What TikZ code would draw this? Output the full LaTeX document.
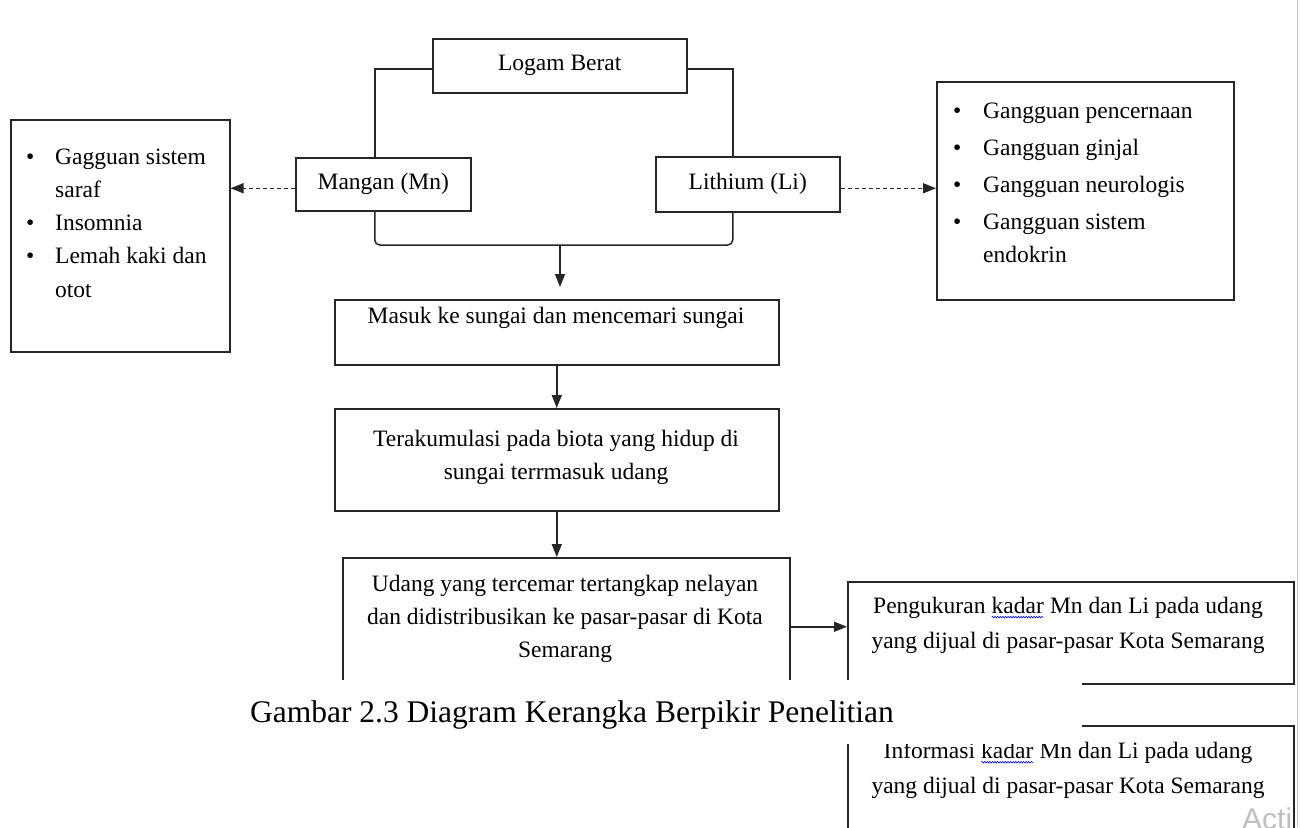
\documentclass[tikz,border=0pt]{standalone}
\usepackage{fontspec}
\setmainfont{Liberation Serif}
\newfontfamily\wmfont{Liberation Sans}
\usetikzlibrary{arrows.meta,decorations.pathmorphing}
\newcommand\spellwave[1]{\tikz[baseline=(sw.base)]{\node[inner sep=0pt,outer sep=0pt] (sw) {#1};
  \draw[blue!80!black, line width=0.6pt, decorate, decoration={snake, amplitude=0.8pt, segment length=2.6pt}] ([yshift=-3.5pt]sw.base west) -- ([yshift=-3.5pt]sw.base east);}}
\begin{document}
\begin{tikzpicture}[x=1pt,y=-1pt,
  box/.style={draw=black!85, line width=1.5pt, inner sep=0pt, anchor=north west},
  wire/.style={draw=black!85, line width=1.5pt},
  txt/.style={font=\fontsize{23.5}{33}\selectfont, align=center, inner sep=0pt},
  lst/.style={align=left, inner sep=0pt, anchor=west},
  arr/.style={wire, -{Triangle[length=13pt,width=10pt]}},
  darr/.style={arr, dash pattern=on 4pt off 3pt}]
\fill[white] (0,0) rectangle (1300,827);
\useasboundingbox (0,0) rectangle (1300,827);

% boxes
\node[box, minimum width=254pt, minimum height=54pt] (logam) at (432,38) {};
\node[txt] (logamT) at (logam.center) {Logam Berat};
\node[box, minimum width=175pt, minimum height=53pt] (mangan) at (295,157) {};
\node[txt] (manganT) at (mangan.center) {Mangan (Mn)};
\node[box, minimum width=184pt, minimum height=55pt] (lithium) at (655,156) {};
\node[txt] (lithiumT) at (lithium.center) {Lithium (Li)};
\node[box, minimum width=219pt, minimum height=232pt] (leftbox) at (10,119) {};
\node[lst, font=\fontsize{23.5}{33.25}\selectfont] (leftT) at (26,223) {%
  \makebox[29pt][l]{\textbullet}Gagguan sistem\\
  \hspace*{29pt}saraf\\
  \makebox[29pt][l]{\textbullet}Insomnia\\
  \makebox[29pt][l]{\textbullet}Lemah kaki dan\\
  \hspace*{29pt}otot};
\node[box, minimum width=297pt, minimum height=218pt] (rightbox) at (936,81) {};
\node[lst, font=\fontsize{23.5}{32.5}\selectfont] (rightT) at (953,183) {%
  \makebox[30pt][l]{\textbullet}Gangguan pencernaan\\[4.5pt]
  \makebox[30pt][l]{\textbullet}Gangguan ginjal\\[4.5pt]
  \makebox[30pt][l]{\textbullet}Gangguan neurologis\\[4.5pt]
  \makebox[30pt][l]{\textbullet}Gangguan sistem\\
  \hspace*{30pt}endokrin};
\node[box, minimum width=444pt, minimum height=65pt] (masuk) at (334,299) {};
\node[txt] (masukT) at (556,318) {Masuk ke sungai dan mencemari sungai};
\node[box, minimum width=444pt, minimum height=102pt] (terak) at (334,408) {};
\node[txt] (terakT) at (556,457) {Terakumulasi pada biota yang hidup di\\sungai terrmasuk udang};
\node[box, minimum width=447pt, minimum height=124pt] (udang) at (342,557) {};
\node[txt] (udangT) at (565,619) {Udang yang tercemar tertangkap nelayan\\dan didistribusikan ke pasar-pasar di Kota\\Semarang};
\node[box, minimum width=446pt, minimum height=102pt] (peng) at (847,581) {};
\node[txt, font=\fontsize{23.5}{35}\selectfont] (pengT) at (1068,625.5) {Pengukuran \spellwave{kadar} Mn dan Li pada udang\\yang dijual di pasar-pasar Kota Semarang};
\node[box, minimum width=446pt, minimum height=110pt] (info) at (847,725) {};
\node[txt, font=\fontsize{23.5}{35}\selectfont] (infoT) at (1068,770.5) {Informasi \spellwave{kadar} Mn dan Li pada udang\\yang dijual di pasar-pasar Kota Semarang};

% connectors
\coordinate (join) at (560,245);
\draw[wire] ([yshift=-3pt]logam.west) -| ([xshift=-8.5pt]mangan.north);
\draw[wire] ([yshift=-3pt]logam.east) -| ([xshift=-15pt]lithium.north);
\draw[wire, rounded corners=5pt] ([xshift=-8.5pt]mangan.south) |- (join) -| ([xshift=-15pt]lithium.south);
\draw[arr, shorten >=12pt] (join) -- (join |- masuk.north);
\draw[arr] (masuk.south) -- (terak.north);
\draw[arr] (terak.south) -- (terak.south |- udang.north);
\draw[arr] ([yshift=-7pt]udang.east) -- ([yshift=-7pt]udang.east -| peng.west);
\draw[darr] ([yshift=-4pt]mangan.west) -- ([yshift=-4pt]mangan.west -| leftbox.east);
\draw[darr] ([yshift=-4pt]lithium.east) -- ([yshift=-4pt]lithium.east -| rightbox.west);

% caption strip over the diagram
\fill[white] (0,680) rectangle (1082,744);
\node[font=\fontsize{31.5}{38}\selectfont, inner sep=0pt] (cap) at (572,715) {Gambar 2.3 Diagram Kerangka Berpikir Penelitian};

% page edge and watermark
\draw[gray!45, line width=1.5pt] (1297.5,0) -- (1297.5,827);
\node[font=\wmfont\fontsize{30}{30}\selectfont, text=gray!50, anchor=base west, inner sep=0pt] (wm) at (1242,829) {Acti};
\end{tikzpicture}
\end{document}
